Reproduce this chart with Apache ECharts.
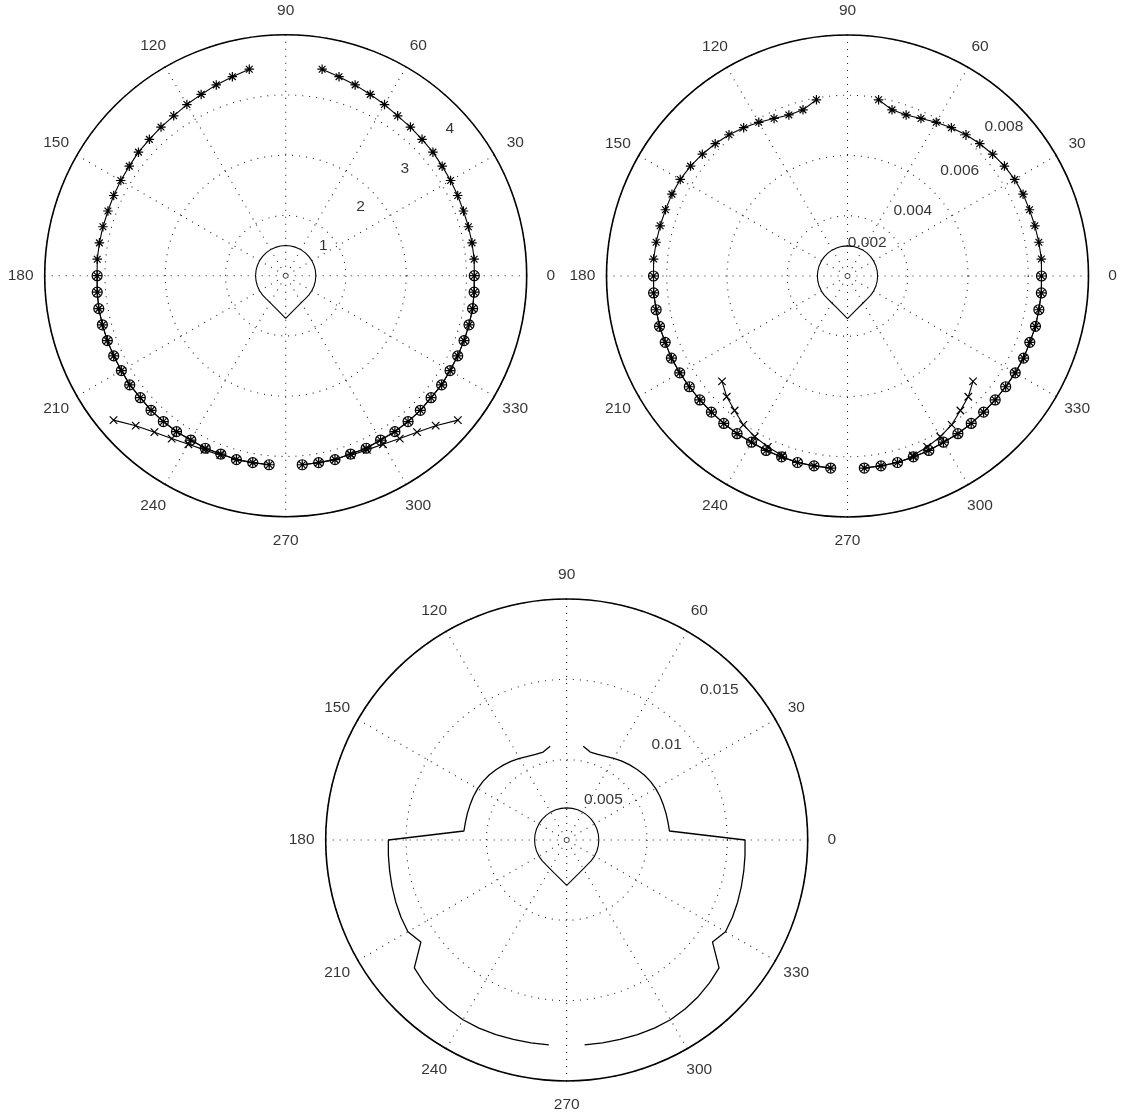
<!DOCTYPE html>
<html>
<head>
<meta charset="utf-8">
<script src="https://cdn.jsdelivr.net/npm/echarts@6/dist/echarts.min.js"></script>
<style>
  html, body { margin: 0; padding: 0; background: #fff; }
  #chart { width: 1128px; height: 1117px; }
</style>
</head>
<body>
<div id="chart"></div>
<script>
// ---- angles (degrees, counter-clockwise from east) ----
// each pattern has a right branch (80° down through 0° to 275°) and a mirrored left branch
const rightAngles = [80,75,70,65,60,55,50,45,40,35,30,25,20,15,10,5,0,355,350,345,340,335,330,325,320,315,310,305,300,295,290,285,280,275];
const leftAngles  = [100,105,110,115,120,125,130,135,140,145,150,155,160,165,170,175,180,185,190,195,200,205,210,215,220,225,230,235,240,245,250,255,260,265];
const crossRightAngles = [320,315,310,305,300,295,290];
const crossLeftAngles  = [220,225,230,235,240,245,250];
const dropAngles = [0,10,20,30,40,50,60,70,80,90,100,110,120,130,140,150,160,170,180,190,200,210,220,230,240,250,260,270,280,290,300,310,320,330,340,350,360];

// ---- top-left pattern (radius units) ----
const tlStar  = [3.48,3.42,3.37,3.32,3.28,3.24,3.22,3.20,3.19,3.17,3.16,3.15,3.14,3.14,3.14,3.14,3.13,
                 3.14,3.15,3.15,3.15,3.15,3.15,3.16,3.15,3.16,3.16,3.16,3.15,3.16,3.15,3.16,3.15,3.15];
const tlCross = [3.73,3.52,3.39,3.30,3.23,3.19,3.17];
const tlDrop  = [0.5,0.5,0.5,0.5,0.5,0.5,0.5,0.5,0.5,0.5,0.5,0.5,0.5,0.5,0.5,0.5,0.5,0.5,0.5,0.5,0.5,0.5,0.5,
                 0.502,0.518,0.552,0.61,0.707,0.61,0.552,0.518,0.502,0.5,0.5,0.5,0.5,0.5];

// ---- top-right pattern ----
const trStar  = [0.00594,0.00571,0.00569,0.00577,0.00589,0.00601,0.00612,0.00621,0.00629,0.00636,0.00641,0.00643,0.00643,0.00644,0.00645,0.00646,0.00644,
                 0.00646,0.00645,0.00646,0.00644,0.00645,0.00643,0.00641,0.0064,0.00639,0.00639,0.00639,0.00637,0.00639,0.00639,0.00641,0.0064,0.0064];
const trCross = [0.00544,0.00567,0.00583,0.00603,0.00616,0.00626,0.00634];
const trDrop  = [0.001,0.001,0.001,0.001,0.001,0.001,0.001,0.001,0.001,0.001,0.001,0.001,0.001,0.001,0.001,0.001,0.001,0.001,0.001,0.001,0.001,0.001,0.001,
                 0.001004,0.001035,0.001103,0.001221,0.001414,0.001221,0.001103,0.001035,0.001004,0.001,0.001,0.001,0.001,0.001];

// ---- bottom pattern ----
const bCurve = [0.00593,0.00567,0.00567,0.00575,0.00587,0.00599,0.0061,0.0062,0.0063,0.00636,0.0064,0.00641,0.0064,0.0064,0.0064,0.00642,0.0111,
                0.01114,0.01119,0.01125,0.01132,0.01138,0.01141,0.01108,0.01238,0.01257,0.01273,0.01284,0.01292,0.01292,0.01289,0.01285,0.01282,0.0128];
const bDrop  = [0.002,0.002,0.002,0.002,0.002,0.002,0.002,0.002,0.002,0.002,0.002,0.002,0.002,0.002,0.002,0.002,0.002,0.002,0.002,0.002,0.002,0.002,0.002,
                0.002008,0.00207,0.002207,0.002441,0.002828,0.002441,0.002207,0.00207,0.002008,0.002,0.002,0.002,0.002,0.002];

// ---- tick labels ----
const angleTicks = ['0','30','60','90','120','150','180','210','240','270','300','330'];
const ringTicksTL = ['1','2','3','4'];
const ringTicksTR = ['0.002','0.004','0.006','0.008'];
const ringTicksB  = ['0.005','0.01','0.015'];

// ---- layout ----
const FONT = 'Liberation Sans, Arial, Helvetica, sans-serif';
const GRID = { color: '#222', width: 1.1, type: [1, 6] };
const STAR = 'path://M0,5L10,5M5,0L5,10M1.46,1.46L8.54,8.54M1.46,8.54L8.54,1.46';
const CROSS = 'path://M0,0L10,10M0,10L10,0';

const panels = [
  { center: [285.7, 275.7], max: 4,     step: 1,     ticks: ringTicksTL,
    tickAt: [[0.80, 38.6], [1.69, 42.6], [2.66, 42.0], [3.66, 41.9]] },
  { center: [847.5, 276.0], max: 0.008, step: 0.002, ticks: ringTicksTR,
    tickAt: [[0.00128, 59.2], [0.00306, 44.9], [0.00512, 43.3], [0.00717, 43.6]] },
  { center: [566.7, 840.0], max: 0.015, step: 0.005, ticks: ringTicksB,
    tickAt: [[0.00338, 47.5], [0.00858, 43.5], [0.01332, 44.5]] }
];

const pairs = (radii, angles) => radii.map((r, i) => [r, angles[i]]);

const series = [];

function lineSeries(pi, data, extra) {
  return Object.assign({
    type: 'line', coordinateSystem: 'polar', polarIndex: pi, data: data,
    showSymbol: false, symbol: 'none', silent: true,
    lineStyle: { color: '#000', width: 1.1 }
  }, extra || {});
}

function markerSeries(pi, data, symbol, size) {
  return lineSeries(pi, data, {
    showSymbol: true, symbol: symbol, symbolSize: size,
    itemStyle: { color: 'rgba(0,0,0,0)', borderColor: '#000', borderWidth: 1.2 }
  });
}

// teardrops
[tlDrop, trDrop, bDrop].forEach((d, pi) => series.push(lineSeries(pi, pairs(d, dropAngles))));

// top panels: asterisk branches, circled lower halves, crossed branches
[[tlStar, tlCross], [trStar, trCross]].forEach(([star, cross], pi) => {
  series.push(markerSeries(pi, pairs(star, rightAngles).slice(16), 'circle', 10));
  series.push(markerSeries(pi, pairs(star, leftAngles).slice(16), 'circle', 10));
  series.push(markerSeries(pi, pairs(star, rightAngles), STAR, 9.5));
  series.push(markerSeries(pi, pairs(star, leftAngles), STAR, 9.5));
  series.push(markerSeries(pi, pairs(cross, crossRightAngles), CROSS, 7.5));
  series.push(markerSeries(pi, pairs(cross, crossLeftAngles), CROSS, 7.5));
});

// bottom panel: plain outer curve
series.push(lineSeries(2, pairs(bCurve, rightAngles), { lineStyle: { color: '#000', width: 1.3 } }));
series.push(lineSeries(2, pairs(bCurve, leftAngles),  { lineStyle: { color: '#000', width: 1.3 } }));

// text labels (spoke angles outside the rim, ring values inside)
panels.forEach((p, pi) => {
  const items = angleTicks.map((t, k) => ({ name: t, value: [1.1 * p.max, k * 30] }));
  p.ticks.forEach((t, k) => items.push({ name: t, value: p.tickAt[k] }));
  series.push({
    type: 'scatter', coordinateSystem: 'polar', polarIndex: pi, clip: false, silent: true,
    symbol: 'circle', symbolSize: 1, itemStyle: { color: 'rgba(0,0,0,0)' },
    label: { show: true, position: 'inside', formatter: '{b}', color: '#000',
             fontSize: 15.5, fontFamily: FONT },
    data: items, z: 10
  });
});

const option = {
  animation: false,
  backgroundColor: '#fff',
  polar: panels.map(p => ({ center: p.center, radius: 241 })),
  angleAxis: panels.map((p, pi) => ({
    polarIndex: pi, type: 'value', min: 0, max: 360, interval: 30,
    startAngle: 0, clockwise: false, silent: true,
    axisLine: { show: true, lineStyle: { color: '#000', width: 1.6 } },
    axisTick: { show: false }, axisLabel: { show: false },
    splitLine: { show: true, lineStyle: GRID }
  })),
  radiusAxis: panels.map((p, pi) => ({
    polarIndex: pi, type: 'value', min: 0, max: p.max, interval: p.step, silent: true,
    axisLine: { show: false }, axisTick: { show: false }, axisLabel: { show: false },
    splitLine: { show: true, lineStyle: GRID }
  })),
  series: series
};

const chart = echarts.init(document.getElementById('chart'), null, { renderer: 'canvas' });
chart.setOption(option);
</script>
</body>
</html>
